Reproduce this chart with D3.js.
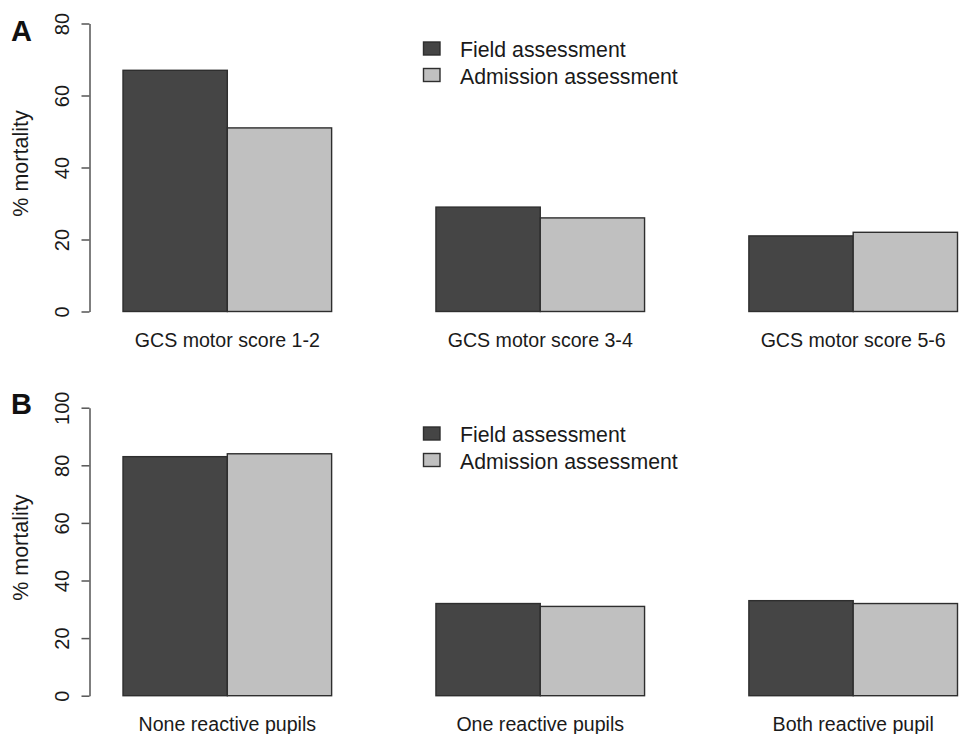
<!DOCTYPE html>
<html>
<head>
<meta charset="utf-8">
<script src="https://cdn.jsdelivr.net/npm/d3@7"></script>
<style>
  html, body { margin: 0; padding: 0; background: #fff; }
  svg { display: block; font-family: "Liberation Sans", Arial, Helvetica, sans-serif; }
</style>
</head>
<body>
<svg id="chart" width="962" height="734"></svg>
<script>
// Mortality by assessment setting: panel A (GCS motor score), panel B (pupil reactivity)
const seriesNames = ["Field assessment", "Admission assessment"];
const seriesColors = ["#454545", "#c0c0c0"];

const gcsCategories = ["GCS motor score 1-2", "GCS motor score 3-4", "GCS motor score 5-6"];
const gcsField = [67, 29, 21];
const gcsAdmission = [51, 26, 22];
const gcsTicks = [0, 20, 40, 60, 80];

const pupilCategories = ["None reactive pupils", "One reactive pupils", "Both reactive pupil"];
const pupilField = [83, 32, 33];
const pupilAdmission = [84, 31, 32];
const pupilTicks = [0, 20, 40, 60, 80, 100];

const svg = d3.select("#chart");
const textColor = "#1a1a1a";
const axisColor = "#555";

function drawPanel(opts) {
  const { letter, categories, field, admission, ticks, yMax, yBottom, yTop, legendY } = opts;
  const g = svg.append("g");

  const y = d3.scaleLinear().domain([0, yMax]).range([yBottom, yTop]);
  const x = d3.scaleBand().domain(categories).range([123, 957.5])
    .paddingInner(1 / 3).paddingOuter(0);
  const xs = d3.scaleBand().domain(seriesNames).range([0, x.bandwidth()]);

  const rows = categories.map((c, i) => ({ cat: c, values: [field[i], admission[i]] }));

  const groups = g.selectAll("g.grp").data(rows).enter().append("g")
    .attr("transform", d => `translate(${x(d.cat)},0)`);
  groups.selectAll("rect").data(d => d.values.map((v, j) => ({ v, s: seriesNames[j], j })))
    .enter().append("rect")
    .attr("x", d => xs(d.s))
    .attr("y", d => y(d.v))
    .attr("width", xs.bandwidth())
    .attr("height", d => y(0) - y(d.v))
    .attr("fill", d => seriesColors[d.j])
    .attr("stroke", "#2e2e2e")
    .attr("stroke-width", 1.4);

  // Category names under each group
  g.selectAll("text.cat").data(categories).enter().append("text")
    .attr("x", d => x(d) + x.bandwidth() / 2)
    .attr("y", yBottom + 35)
    .attr("text-anchor", "middle")
    .attr("font-size", 19.6)
    .attr("fill", textColor)
    .text(d => d);

  // Y axis with rotated tick labels
  const axis = d3.axisLeft(y).tickValues(ticks).tickSize(8).tickSizeOuter(0).tickFormat(d3.format("d"));
  const ag = g.append("g").attr("transform", "translate(89.5,0)").call(axis);
  ag.select(".domain").attr("stroke", axisColor).attr("stroke-width", 1.5);
  ag.selectAll(".tick line").attr("stroke", axisColor).attr("stroke-width", 1.5);
  ag.selectAll(".tick text")
    .attr("transform", "rotate(-90)")
    .attr("x", 0).attr("y", -21).attr("dy", null)
    .attr("text-anchor", "middle")
    .attr("font-size", 20)
    .attr("font-family", "Liberation Sans, Arial, sans-serif")
    .attr("fill", textColor);

  // Y axis title
  g.append("text")
    .attr("transform", `translate(27.5,${(yBottom + yTop) / 2 - 4}) rotate(-90)`)
    .attr("text-anchor", "middle")
    .attr("font-size", 21.5)
    .attr("fill", textColor)
    .text("% mortality");

  // Panel letter
  g.append("text")
    .attr("x", 11).attr("y", yTop + (letter === "A" ? 17 : 6))
    .attr("font-size", 29).attr("font-weight", "bold")
    .attr("fill", "#111")
    .text(letter);

  // Legend
  const lg = g.append("g").attr("transform", `translate(423.5,${legendY})`);
  seriesNames.forEach((name, i) => {
    lg.append("rect")
      .attr("x", 0).attr("y", i * 26.5)
      .attr("width", 16.5).attr("height", 13)
      .attr("fill", seriesColors[i])
      .attr("stroke", "#2e2e2e").attr("stroke-width", 1.4);
    lg.append("text")
      .attr("x", 36.5).attr("y", i * 26.5 + 15)
      .attr("font-size", 21.3)
      .attr("fill", textColor)
      .text(name);
  });
}

drawPanel({
  letter: "A", categories: gcsCategories, field: gcsField, admission: gcsAdmission,
  ticks: gcsTicks, yMax: 80, yBottom: 311.5, yTop: 23.5, legendY: 42
});
drawPanel({
  letter: "B", categories: pupilCategories, field: pupilField, admission: pupilAdmission,
  ticks: pupilTicks, yMax: 100, yBottom: 695.7, yTop: 407.7, legendY: 427
});
</script>
</body>
</html>
